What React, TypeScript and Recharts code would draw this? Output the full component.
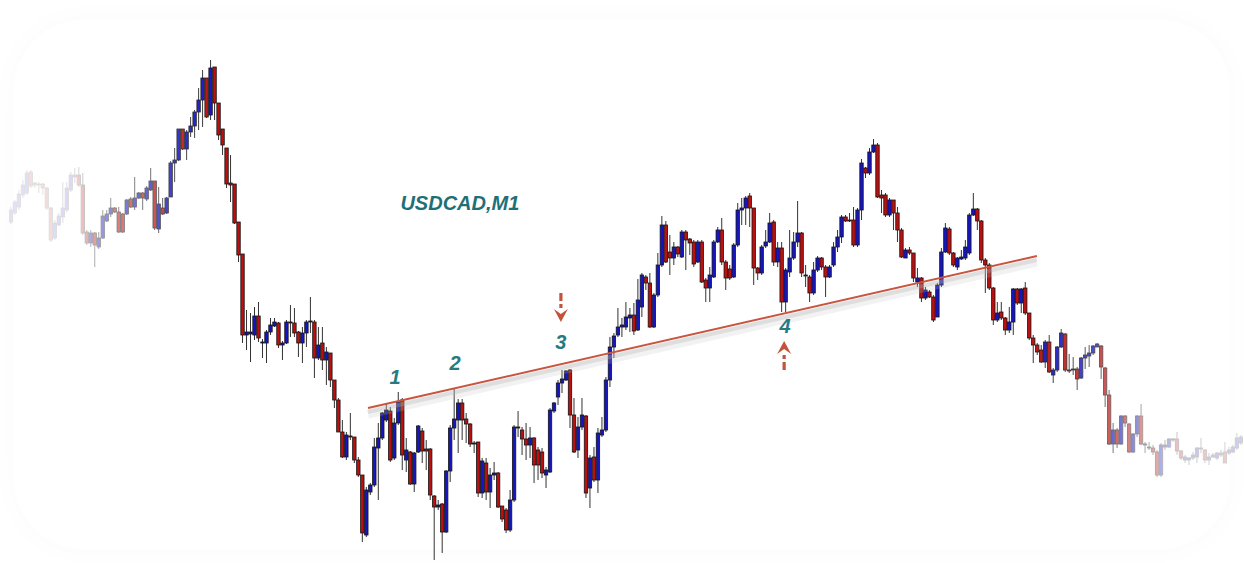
import React from 'react';
import { ComposedChart, Bar, XAxis, YAxis, ReferenceLine, ReferenceDot } from 'recharts';

// USDCAD M1 candles, [open, high, low, close] in points, read left to right
const ohlc: [number, number, number, number][] = [
  [378, 393, 376, 390], [387, 400, 385, 398], [393, 410, 390, 406], [405, 420, 402, 415], [407, 430, 405, 427],
  [428, 430, 412, 414], [417, 418, 412, 415], [416, 418, 407, 415], [416, 417, 405, 412], [412, 413, 390, 392],
  [392, 393, 358, 360], [362, 380, 360, 377], [375, 387, 374, 384], [383, 418, 377, 392], [390, 418, 388, 412],
  [410, 428, 408, 425], [423, 432, 417, 425], [425, 433, 413, 415], [415, 427, 365, 367], [368, 370, 355, 357],
  [357, 370, 353, 367], [367, 368, 333, 355], [353, 368, 351, 362], [362, 390, 361, 384], [379, 390, 378, 386],
  [386, 402, 383, 392], [392, 393, 387, 388], [388, 393, 367, 368], [386, 387, 367, 368], [386, 401, 385, 400],
  [401, 403, 392, 393], [393, 423, 390, 402], [402, 408, 401, 407], [407, 408, 390, 402], [401, 414, 399, 412],
  [410, 432, 409, 419], [419, 419, 370, 372], [371, 413, 367, 396], [392, 402, 385, 386], [387, 403, 386, 402],
  [403, 439, 403, 437], [437, 452, 418, 440], [440, 471, 439, 471], [471, 471, 450, 451], [451, 470, 440, 468],
  [468, 483, 463, 474], [474, 490, 462, 488], [488, 512, 470, 500], [500, 530, 473, 522], [522, 522, 482, 483],
  [485, 540, 480, 532], [533, 533, 480, 497], [497, 497, 460, 465], [471, 471, 445, 455], [452, 452, 412, 416],
  [417, 445, 398, 415], [416, 416, 376, 377], [378, 378, 338, 345], [346, 346, 257, 265], [265, 290, 250, 268],
  [266, 287, 238, 268], [265, 293, 260, 284], [284, 298, 258, 262], [257, 261, 242, 258], [257, 270, 237, 268],
  [268, 282, 265, 275], [274, 282, 273, 278], [277, 278, 252, 255], [255, 259, 240, 257], [257, 280, 256, 278],
  [278, 295, 263, 277], [277, 292, 263, 267], [268, 269, 243, 257], [257, 273, 237, 267], [267, 280, 253, 278],
  [278, 303, 267, 279], [278, 280, 222, 242], [242, 273, 240, 255], [257, 273, 230, 240], [240, 253, 215, 248],
  [247, 247, 213, 220], [220, 220, 192, 200], [200, 202, 168, 168], [168, 180, 142, 143], [143, 168, 140, 165],
  [164, 187, 160, 163], [163, 163, 137, 140], [140, 143, 123, 125], [125, 125, 58, 67], [65, 113, 63, 110],
  [108, 117, 105, 115], [115, 162, 113, 153], [152, 177, 100, 162], [162, 188, 160, 187], [180, 197, 178, 190],
  [189, 193, 138, 140], [142, 182, 140, 177], [177, 208, 175, 198], [200, 202, 130, 145], [140, 162, 128, 150],
  [148, 149, 115, 116], [116, 148, 108, 147], [148, 175, 147, 174], [169, 172, 137, 149], [151, 160, 130, 149],
  [151, 152, 100, 105], [104, 105, 40, 93], [93, 100, 90, 95], [96, 97, 47, 68], [68, 130, 67, 129],
  [129, 175, 118, 172], [172, 211, 160, 181], [180, 201, 147, 197], [197, 201, 160, 180], [181, 187, 157, 176],
  [176, 177, 153, 156], [157, 159, 147, 156], [158, 158, 103, 107], [107, 142, 102, 139], [137, 142, 100, 108],
  [108, 132, 92, 125], [125, 138, 120, 127], [127, 128, 92, 93], [94, 94, 78, 81], [90, 92, 67, 70],
  [70, 110, 68, 100], [100, 175, 98, 173], [173, 189, 163, 172], [170, 173, 145, 161], [161, 177, 140, 155],
  [155, 173, 142, 162], [162, 163, 117, 135], [150, 153, 120, 135], [148, 152, 122, 127], [125, 133, 112, 130],
  [128, 192, 127, 190], [189, 198, 187, 197], [203, 220, 195, 217], [217, 230, 207, 221], [220, 230, 219, 229],
  [230, 231, 172, 185], [185, 202, 147, 148], [150, 183, 142, 173], [173, 202, 170, 185], [184, 185, 102, 107],
  [112, 145, 92, 142], [143, 153, 118, 120], [120, 172, 107, 167], [165, 183, 163, 170], [170, 223, 168, 220],
  [220, 263, 213, 253], [253, 267, 242, 264], [265, 292, 263, 273], [273, 282, 263, 275], [273, 298, 270, 283],
  [282, 292, 268, 285], [285, 297, 265, 269], [270, 321, 269, 300], [293, 327, 283, 325], [323, 325, 310, 317],
  [317, 327, 272, 273], [273, 307, 272, 305], [305, 347, 303, 335], [335, 384, 333, 375], [375, 379, 337, 338],
  [348, 365, 325, 342], [342, 358, 335, 353], [353, 354, 343, 346], [343, 370, 342, 368], [368, 370, 330, 360],
  [361, 362, 345, 357], [358, 360, 333, 336], [338, 360, 337, 358], [358, 360, 317, 318], [320, 322, 298, 312],
  [312, 333, 298, 325], [323, 360, 322, 358], [358, 373, 357, 370], [370, 382, 335, 338], [338, 340, 310, 322],
  [331, 335, 320, 322], [323, 357, 322, 355], [355, 397, 353, 390], [390, 402, 375, 392], [392, 404, 375, 402],
  [404, 407, 373, 392], [392, 392, 315, 332], [332, 333, 320, 327], [327, 355, 325, 353], [354, 370, 352, 358],
  [358, 387, 357, 377], [378, 380, 334, 338], [338, 358, 333, 352], [352, 358, 288, 298], [298, 332, 288, 330],
  [328, 370, 323, 342], [342, 368, 340, 358], [358, 399, 353, 367], [367, 368, 323, 327], [325, 335, 313, 324],
  [323, 325, 298, 307], [307, 338, 305, 330], [330, 344, 328, 342], [342, 343, 330, 333], [333, 335, 303, 323],
  [323, 335, 322, 333], [335, 358, 333, 353], [353, 370, 348, 363], [363, 385, 357, 383], [383, 385, 378, 379],
  [380, 387, 378, 379], [380, 393, 353, 355], [355, 392, 353, 390], [390, 441, 380, 437], [432, 433, 422, 427],
  [427, 452, 425, 448], [448, 461, 447, 455], [455, 457, 402, 403], [405, 410, 387, 402], [405, 407, 383, 385],
  [385, 402, 383, 400], [400, 400, 370, 387], [387, 393, 358, 370], [370, 372, 342, 343], [342, 352, 342, 350],
  [350, 353, 345, 347], [347, 347, 318, 322], [318, 332, 313, 322], [322, 323, 298, 302], [302, 313, 300, 310],
  [308, 310, 302, 303], [303, 305, 278, 280], [283, 317, 283, 315], [315, 352, 313, 348], [348, 377, 347, 372],
  [371, 373, 345, 347], [347, 348, 333, 335], [333, 343, 330, 342], [341, 350, 340, 343], [342, 360, 340, 353],
  [347, 387, 345, 385], [385, 407, 384, 391], [391, 392, 370, 379], [379, 380, 337, 340], [340, 342, 307, 335],
  [335, 337, 310, 312], [312, 313, 275, 280], [280, 298, 278, 287], [288, 298, 280, 282], [282, 283, 265, 270],
  [270, 293, 267, 278], [278, 312, 265, 311], [311, 312, 295, 297], [297, 312, 287, 311], [312, 318, 285, 287],
  [287, 287, 260, 262], [262, 265, 237, 255], [255, 257, 245, 248], [250, 255, 237, 238], [238, 260, 232, 258],
  [258, 265, 227, 228], [225, 232, 217, 230], [230, 254, 228, 253], [253, 271, 252, 267], [266, 267, 228, 230],
  [230, 246, 227, 229], [231, 243, 225, 230], [231, 233, 210, 221], [222, 243, 221, 242], [242, 253, 231, 245],
  [244, 255, 233, 247], [247, 255, 245, 254], [253, 257, 253, 256], [254, 255, 221, 233], [232, 233, 193, 205],
  [205, 210, 155, 156], [156, 177, 147, 170], [170, 172, 152, 156], [156, 185, 155, 184], [184, 185, 173, 177],
  [176, 177, 147, 148], [148, 167, 147, 166], [166, 185, 163, 184], [184, 196, 155, 156], [156, 158, 147, 155],
  [153, 158, 150, 152], [152, 155, 145, 148], [148, 150, 123, 125], [125, 157, 123, 155], [153, 160, 150, 155],
  [153, 162, 152, 161], [161, 162, 158, 160], [161, 168, 145, 149], [149, 150, 140, 142], [140, 145, 137, 143],
  [140, 143, 135, 142], [142, 148, 140, 145], [143, 153, 137, 152], [152, 162, 147, 151], [150, 151, 137, 140],
  [140, 147, 135, 143], [143, 147, 142, 145], [142, 148, 140, 147], [145, 150, 143, 147], [148, 158, 137, 137],
  [147, 153, 145, 150], [148, 155, 147, 153], [152, 167, 150, 162], [157, 165, 155, 163],
];

// trend line through the touches 1..4 (candle index, price)
const trendFrom = { i: 90.4, price: 192 };
const trendTo = { i: 257.9, price: 344 };

const touchLabels = [
  { i: 97.2, price: 223, text: '1' },
  { i: 112.2, price: 237, text: '2' },
  { i: 138.7, price: 258, text: '3' },
  { i: 194.8, price: 274, text: '4' },
];

const arrows = [
  { i: 138.7, price: 307, dir: 'down' },
  { i: 194.6, price: 260, dir: 'up' },
];

const title = { i: 113.4, price: 397, text: 'USDCAD,M1' };

const data = ohlc.map(([o, h, l, c], k) => ({ i: k + 1, o, h, l, c, range: [l, h] }));

const BULL = '#1616c0';
const BEAR = '#bb1010';
const TEAL = '#267a82';
const ARROW = '#c2543c';

const Candle = (props: any) => {
  const { x, y, width, height, payload } = props;
  if (!payload) return null;
  const { o, h, l, c } = payload;
  const cx = x + width / 2;
  const top = Math.min(y, y + height);
  const span = Math.abs(height);
  const ratio = h - l > 0 ? span / (h - l) : 0;
  const bodyTop = top + (h - Math.max(o, c)) * ratio;
  const bodyH = Math.max(Math.abs(o - c) * ratio, 1);
  return (
    <g>
      <line x1={cx} x2={cx} y1={top} y2={top + span} stroke="#333" strokeWidth={1} />
      <rect
        x={cx - 1.7}
        y={bodyTop}
        width={3.4}
        height={bodyH}
        fill={c >= o ? BULL : BEAR}
        stroke="#141414"
        strokeWidth={0.8}
      />
    </g>
  );
};

const Arrow = ({ cx, cy, dir }: any) => {
  // drawn pointing down from cy; flipped for "up"
  const t = dir === 'down' ? '' : `rotate(180 ${cx} ${cy + 15})`;
  return (
    <g transform={t}>
      <rect x={cx - 1.6} y={cy} width={3.2} height={8} fill={ARROW} />
      <rect x={cx - 1.6} y={cy + 11} width={3.2} height={4} fill={ARROW} />
      <path
        d={`M${cx - 7},${cy + 16} L${cx},${cy + 29} L${cx + 7},${cy + 16} L${cx},${cy + 21} Z`}
        fill={ARROW}
      />
    </g>
  );
};

const labelText = (text: string, size: number, color: string) => (p: any) => (
  <text
    x={p.cx}
    y={p.cy}
    textAnchor="middle"
    dominantBaseline="central"
    fontFamily="Liberation Sans, Arial, sans-serif"
    fontWeight="bold"
    fontStyle="italic"
    fontSize={size}
    fill={color}
  >
    {text}
  </text>
);

export default function App() {
  return (
    <div
      style={{
        position: 'absolute',
        left: 0,
        top: 0,
        width: 1244,
        height: 563,
        background: '#fff',
        overflow: 'hidden',
      }}
    >
      <ComposedChart width={1244} height={563} data={data} margin={{ top: 0, right: 1, bottom: 0, left: 9 }}>
        <XAxis type="number" dataKey="i" domain={[0.5, 309.5]} hide allowDataOverflow />
        <YAxis type="number" domain={[37, 600]} hide allowDataOverflow />
        <ReferenceLine
          segment={[
            { x: trendFrom.i, y: trendFrom.price - 6 },
            { x: trendTo.i, y: trendTo.price - 6 },
          ]}
          stroke="#c4c4c4"
          strokeWidth={9}
          strokeOpacity={0.22}
          ifOverflow="visible"
        />
        <ReferenceLine
          segment={[
            { x: trendFrom.i, y: trendFrom.price - 4 },
            { x: trendTo.i, y: trendTo.price - 4 },
          ]}
          stroke="#b0b0b0"
          strokeWidth={4}
          strokeOpacity={0.3}
          ifOverflow="visible"
        />
        <Bar dataKey="range" shape={<Candle />} isAnimationActive={false} />
        <ReferenceLine
          segment={[
            { x: trendFrom.i, y: trendFrom.price },
            { x: trendTo.i, y: trendTo.price },
          ]}
          stroke="#c9553f"
          strokeWidth={2}
          ifOverflow="visible"
        />
        {touchLabels.map((t) => (
          <ReferenceDot
            key={t.text}
            x={t.i}
            y={t.price}
            r={0}
            ifOverflow="visible"
            shape={labelText(t.text, 20, TEAL)}
          />
        ))}
        {arrows.map((a, k) => (
          <ReferenceDot
            key={k}
            x={a.i}
            y={a.price}
            r={0}
            ifOverflow="visible"
            shape={(p: any) => <Arrow cx={p.cx} cy={p.cy} dir={a.dir} />}
          />
        ))}
        <ReferenceDot
          x={title.i}
          y={title.price}
          r={0}
          ifOverflow="visible"
          shape={labelText(title.text, 20, '#1f6f79')}
        />
      </ComposedChart>
      <div
        style={{
          position: 'absolute',
          left: 0,
          top: 0,
          width: 230,
          height: 563,
          pointerEvents: 'none',
          background:
            'linear-gradient(to right, rgba(255,255,255,0.88) 0px, rgba(255,255,255,0.84) 75px, rgba(255,255,255,0.62) 92px, rgba(255,255,255,0.48) 115px, rgba(255,255,255,0.32) 150px, rgba(255,255,255,0.14) 178px, rgba(255,255,255,0) 215px)',
        }}
      />
      <div
        style={{
          position: 'absolute',
          left: 1030,
          top: 0,
          width: 214,
          height: 563,
          pointerEvents: 'none',
          background:
            'linear-gradient(to right, rgba(255,255,255,0) 0px, rgba(255,255,255,0.25) 70px, rgba(255,255,255,0.55) 110px, rgba(255,255,255,0.75) 150px, rgba(255,255,255,0.8) 214px)',
        }}
      />
      <div
        style={{
          position: 'absolute',
          left: 14,
          top: 20,
          right: 14,
          bottom: 14,
          borderRadius: 70,
          pointerEvents: 'none',
          boxShadow: '0 0 30px rgba(0,0,0,0.025)',
        }}
      />
    </div>
  );
}
